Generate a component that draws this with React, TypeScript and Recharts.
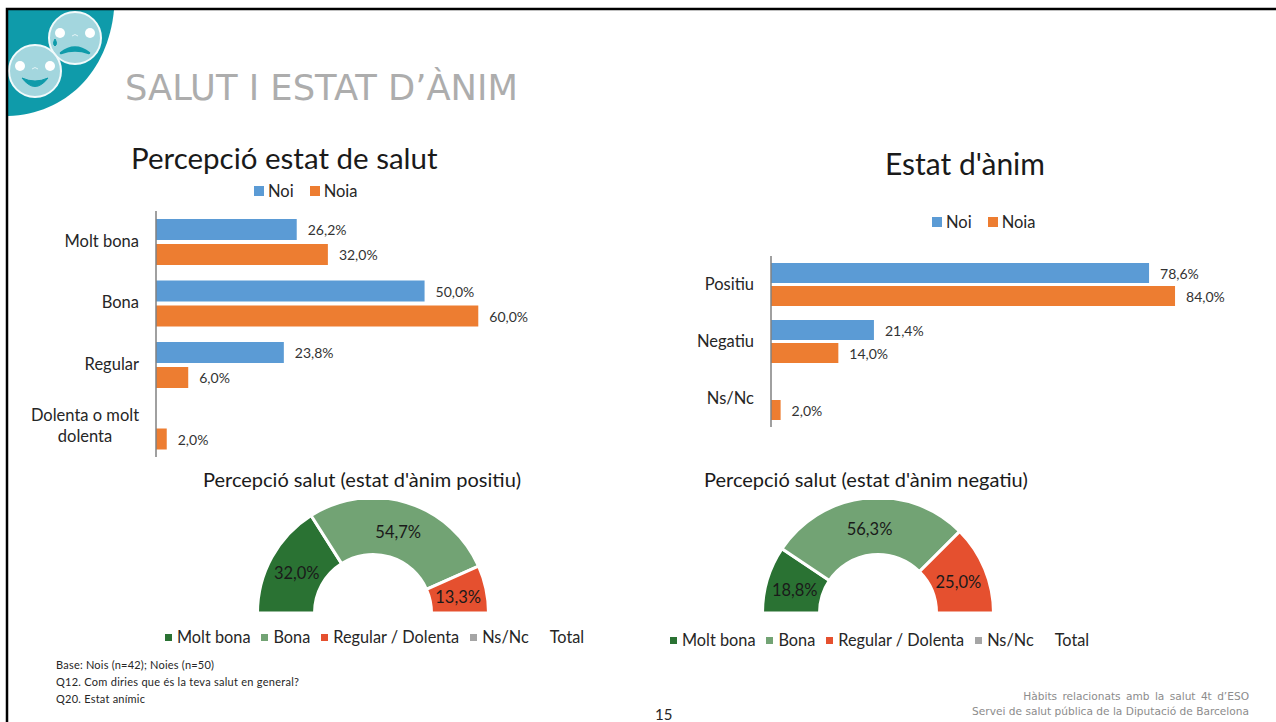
import React from "react";
import { BarChart, Bar, XAxis, YAxis, LabelList, Legend, PieChart, Pie, Cell } from "recharts";

const FONT = "Lato, sans-serif";
const BLUE = "#5B9BD5";
const ORANGE = "#ED7D31";
const TEAL = "#0F9BAA";
const FACE = "#A3D6DE";

const healthCategories = ["Molt bona", "Bona", "Regular", "Dolenta o molt dolenta"];
const healthNoi = [26.2, 50.0, 23.8, null];
const healthNoia = [32.0, 60.0, 6.0, 2.0];

const moodCategories = ["Positiu", "Negatiu", "Ns/Nc"];
const moodNoi = [78.6, 21.4, null];
const moodNoia = [84.0, 14.0, 2.0];

const donutCategories = ["Molt bona", "Bona", "Regular / Dolenta"];
const donutPositive = [32.0, 54.7, 13.3];
const donutNegative = [18.8, 56.3, 25.0];
const donutColors = ["#2A7233", "#72A374", "#E5502F"];
const donutLegend = ["Molt bona", "Bona", "Regular / Dolenta", "Ns/Nc", "Total"];
const donutLegendColors = ["#2A7233", "#72A374", "#E5502F", "#A5A5A5", "none"];

const barLegend = ["Noi", "Noia"];
const barLegendColors = [BLUE, ORANGE];

const footnotes = ["Base: Nois (n=42); Noies (n=50)", "Q12. Com diries que és la teva salut en general?", "Q20. Estat anímic"];
const footnoteLengths = [158, 243, 89];

const pct = (v: any) => (v === null || v === undefined ? "" : `${Number(v).toFixed(1).replace(".", ",")}%`);

const healthData = healthCategories.map((c, i) => ({ c, noi: healthNoi[i], noia: healthNoia[i] }));
const moodData = moodCategories.map((c, i) => ({ c, noi: moodNoi[i], noia: moodNoia[i] }));
const toDonut = (vals: number[]) => donutCategories.map((name, i) => ({ name, value: vals[i] }));

const labelStyle = { fontFamily: FONT, fontSize: 14, fill: "#333", transform: "translateY(1px)" };

function CategoryTick({ x, y, payload }: any) {
  const v: string = payload.value;
  const m = v.match(/^(Dolenta o molt) (dolenta)$/);
  const style = { fontFamily: FONT, fontSize: 16.5, fill: "#262626" };
  if (m) {
    return (
      <text x={x - 54} y={y} textAnchor="middle" {...style}>
        <tspan x={x - 54} dy={-5}>{m[1]}</tspan>
        <tspan x={x - 54} dy={21}>{m[2]}</tspan>
      </text>
    );
  }
  return <text x={x} y={y + 5} textAnchor="end" {...style}>{v}</text>;
}

function BarLegendContent() {
  return (
    <div style={{ display: "flex", fontFamily: FONT, fontSize: 16.5, color: "#262626", lineHeight: "20px" }}>
      {barLegend.map((t, i) => (
        <div key={t} style={{ display: "flex", alignItems: "center", marginRight: 16 }}>
          <span style={{ width: 10, height: 10, background: barLegendColors[i], marginRight: 4 }} />
          {t}
        </div>
      ))}
    </div>
  );
}

function DonutLegendContent() {
  return (
    <div style={{ display: "flex", fontFamily: FONT, fontSize: 16.3, color: "#262626", lineHeight: "20px", whiteSpace: "nowrap" }}>
      {donutLegend.map((t, i) => (
        <div key={t} style={{ display: "flex", alignItems: "center", marginRight: i === 3 ? 21 : 11 }}>
          {donutLegendColors[i] !== "none" && (
            <span style={{ width: 7, height: 7, background: donutLegendColors[i], marginRight: 5 }} />
          )}
          {t}
        </div>
      ))}
    </div>
  );
}

function donutLabel({ cx, cy, midAngle, innerRadius, outerRadius, value }: any) {
  const r = (innerRadius + outerRadius) / 2;
  const a = (midAngle * Math.PI) / 180;
  return (
    <text x={cx + r * Math.cos(a)} y={cy - r * Math.sin(a) + 4} textAnchor="middle" dominantBaseline="middle"
      style={{ fontFamily: FONT, fontSize: 16.5, fill: "#1a1a1a" }}>
      {pct(value)}
    </text>
  );
}

function Donut({ left, top, values, legendLeft, legendTop }: any) {
  return (
    <div style={{ position: "absolute", left, top }}>
      <PieChart width={450} height={160} margin={{ top: 0, right: 0, bottom: 0, left: 0 }}>
        <Pie data={toDonut(values)} dataKey="value" nameKey="name" cx={223} cy={113} startAngle={180} endAngle={0}
          innerRadius={58.5} outerRadius={115.5} stroke="#fff" strokeWidth={3} label={donutLabel} labelLine={false}
          isAnimationActive={false}>
          {donutCategories.map((c, i) => <Cell key={c} fill={donutColors[i]} />)}
        </Pie>
        <Legend layout="vertical" align="center" verticalAlign="middle" content={<DonutLegendContent />}
          wrapperStyle={{ left: legendLeft, top: legendTop, width: 440, height: 20, bottom: "auto", right: "auto" }} />
      </PieChart>
    </div>
  );
}

function Face({ cx, cy, sad }: { cx: number; cy: number; sad?: boolean }) {
  return (
    <g>
      <circle cx={cx} cy={cy} r={26} fill={FACE} stroke="#F2FAFB" strokeWidth={2} />
      <circle cx={cx - 15} cy={cy - 5} r={5} fill="#FFFFFF" />
      <circle cx={cx + 15} cy={cy - 5} r={5} fill="#FFFFFF" />
      <path d={`M${cx - 3} ${cy - 2} q3 -3 6 0`} fill="none" stroke="#E4F4F6" strokeWidth={1} />
      {sad ? (
        <path d={`M${cx - 14} ${cy + 15} q14 -11 28 0 q-14 -5 -28 0 Z`} fill={TEAL} stroke={TEAL} strokeWidth={2.5} strokeLinejoin="round" />
      ) : (
        <path d={`M${cx - 13} ${cy + 7} q13 6 26 0 q-13 17 -26 0 Z`} fill={TEAL} stroke={TEAL} strokeWidth={1} strokeLinejoin="round" />
      )}
      {sad && <path d={`M${cx - 20} ${cy + 1} q-3 5 0 7 q3 -2 0 -7`} fill={TEAL} stroke={TEAL} strokeWidth={1} />}
    </g>
  );
}

export default function App() {
  return (
    <div style={{ position: "absolute", left: 0, top: 0, width: 1276, height: 722, background: "#fff", overflow: "hidden" }}>
      <svg width={1276} height={722} style={{ position: "absolute", left: 0, top: 0 }}>
        <path d="M8 10 H114 C108 72 66 114 8 116 Z" fill={TEAL} />
        <Face cx={75} cy={38} sad />
        <Face cx={35} cy={71} />
        <path d="M7 722 V9 H1276" fill="none" stroke="#000" strokeWidth={2.5} />
        <text x={125} y={100} style={{ fontFamily: "'DejaVu Sans', sans-serif", fontSize: 35.3 }} fill="#ADADAD">SALUT I ESTAT D’ÀNIM</text>
        <text x={131} y={169} style={{ fontFamily: FONT, fontSize: 29.5 }} fill="#1a1a1a">Percepció estat de salut</text>
        <text x={885} y={175} style={{ fontFamily: FONT, fontSize: 30 }} fill="#1a1a1a">Estat d'ànim</text>
        <text x={203} y={487} style={{ fontFamily: FONT, fontSize: 20 }} fill="#1a1a1a">Percepció salut (estat d'ànim positiu)</text>
        <text x={704} y={487} style={{ fontFamily: FONT, fontSize: 20 }} fill="#1a1a1a">Percepció salut (estat d'ànim negatiu)</text>
        {footnotes.map((t, i) => (
          <text key={t} x={56} y={669 + i * 17} textLength={footnoteLengths[i]} lengthAdjust="spacing" style={{ fontFamily: FONT, fontSize: 11 }} fill="#262626">{t}</text>
        ))}
        <text x={655} y={720} style={{ fontFamily: FONT, fontSize: 15 }} fill="#262626">15</text>
        <text x={1249} y={700} textAnchor="end" style={{ fontFamily: "'DejaVu Sans', sans-serif", fontSize: 10.6, wordSpacing: 2 }} fill="#8C8C8C">Hàbits relacionats amb la salut 4t d’ESO</text>
        <text x={1249} y={715} textAnchor="end" style={{ fontFamily: "'DejaVu Sans', sans-serif", fontSize: 10.6 }} fill="#8C8C8C">Servei de salut pública de la Diputació de Barcelona</text>
      </svg>

      <div style={{ position: "absolute", left: 0, top: 175 }}>
        <BarChart width={640} height={295} data={healthData} layout="vertical" barSize={21} barGap={4}
          margin={{ top: 36, right: 108, bottom: 13, left: 0 }}>
          <XAxis type="number" domain={[0, 70]} hide />
          <YAxis type="category" dataKey="c" width={156} tick={<CategoryTick />} tickLine={false} axisLine={{ stroke: "#808080", strokeWidth: 1.5 }} interval={0} tickMargin={11} />
          <Legend layout="vertical" align="center" verticalAlign="middle" content={<BarLegendContent />}
            wrapperStyle={{ left: 254, top: 6, width: 200, height: 20, bottom: "auto", right: "auto" }} />
          <Bar dataKey="noi" fill={BLUE} isAnimationActive={false}>
            <LabelList dataKey="noi" position="right" offset={11} formatter={pct} style={labelStyle} />
          </Bar>
          <Bar dataKey="noia" fill={ORANGE} isAnimationActive={false}>
            <LabelList dataKey="noia" position="right" offset={11} formatter={pct} style={labelStyle} />
          </Bar>
        </BarChart>
      </div>

      <div style={{ position: "absolute", left: 640, top: 205 }}>
        <BarChart width={636} height={235} data={moodData} layout="vertical" barSize={20} barGap={3}
          margin={{ top: 51, right: 24, bottom: 13, left: 0 }}>
          <XAxis type="number" domain={[0, 100]} hide />
          <YAxis type="category" dataKey="c" width={131} tick={<CategoryTick />} tickLine={false} axisLine={{ stroke: "#808080", strokeWidth: 1.5 }} interval={0} tickMargin={11} />
          <Legend layout="vertical" align="center" verticalAlign="middle" content={<BarLegendContent />}
            wrapperStyle={{ left: 292, top: 7, width: 200, height: 20, bottom: "auto", right: "auto" }} />
          <Bar dataKey="noi" fill={BLUE} isAnimationActive={false}>
            <LabelList dataKey="noi" position="right" offset={11} formatter={pct} style={labelStyle} />
          </Bar>
          <Bar dataKey="noia" fill={ORANGE} isAnimationActive={false}>
            <LabelList dataKey="noia" position="right" offset={11} formatter={pct} style={labelStyle} />
          </Bar>
        </BarChart>
      </div>

      <Donut left={150} top={500} values={donutPositive} legendLeft={15} legendTop={127} />
      <Donut left={655} top={500} values={donutNegative} legendLeft={15} legendTop={130} />
    </div>
  );
}
